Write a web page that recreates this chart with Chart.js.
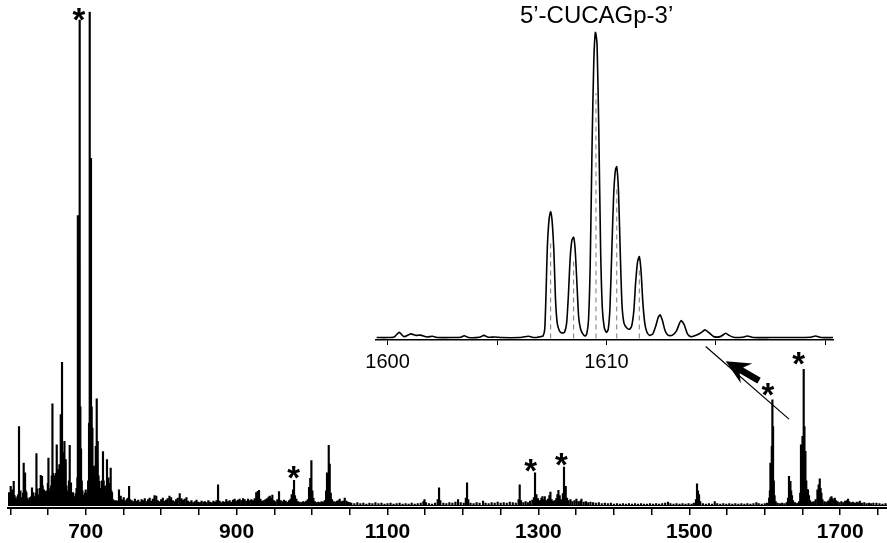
<!DOCTYPE html>
<html><head><meta charset="utf-8">
<script src="https://cdn.jsdelivr.net/npm/chart.js@4.4.0/dist/chart.umd.min.js"></script>
<style>
html,body{margin:0;padding:0;background:#fff;}
#wrap{position:relative;width:887px;height:543px;overflow:hidden;background:#fff;}
#main{position:absolute;left:0;top:0;}
#inset{position:absolute;left:360px;top:0;}
</style></head><body>
<div id="wrap"><canvas id="main" width="887" height="543"></canvas><canvas id="inset" width="480" height="380"></canvas></div>
<script>
// ---- main spectrum: [m/z, relative intensity %] ----
const peaks600to760 = [[598.3,2.6],[599.5,2.0],[600.6,3.9],[601.7,2.4],[602.8,3.2],[603.7,2.2],[604.6,4.9],[605.8,2.0],[607.0,1.5],[608.3,1.2],[609.5,1.8],[610.5,2.2],[611.6,16.0],[612.5,2.8],[613.5,3.0],[614.8,1.6],[616.0,1.2],[617.0,2.5],[617.8,8.6],[618.7,4.0],[619.6,6.6],[620.5,3.0],[621.4,2.6],[622.6,1.5],[623.8,1.0],[624.8,1.2],[625.8,1.6],[626.8,1.1],[627.8,1.8],[628.8,3.6],[630.1,2.6],[631.3,1.5],[632.5,1.8],[633.6,2.5],[634.7,10.5],[635.4,3.0],[636.0,3.4],[637.2,2.0],[638.3,2.2],[639.4,3.5],[640.4,6.1],[641.2,5.0],[642.1,5.9],[643.0,4.0],[643.9,2.8],[644.8,3.2],[645.9,2.0],[647.0,2.9],[648.0,2.2],[649.0,3.0],[649.8,4.5],[650.6,9.6],[651.5,3.0],[652.3,2.6],[653.2,3.5],[654.2,4.0],[655.0,6.0],[655.9,20.6],[656.8,6.5],[657.6,5.3],[658.5,6.0],[659.3,5.6],[660.4,6.5],[661.6,12.3],[662.4,5.5],[663.3,7.3],[664.2,6.0],[665.1,8.3],[666.0,7.0],[666.9,18.4],[667.7,10.0],[668.6,29.0],[669.3,9.0],[669.9,10.7],[670.8,8.5],[671.8,13.0],[672.6,7.0],[673.5,9.3],[674.5,4.0],[675.7,2.6],[676.8,3.0],[677.8,5.0],[678.8,12.2],[679.6,4.0],[680.5,4.6],[681.5,2.2],[682.4,1.8],[683.2,2.6],[684.2,1.6],[685.4,1.8],[686.7,2.4],[687.8,3.5],[689.0,5.6],[689.6,58.7],[690.4,30.0],[691.1,49.0],[692.0,98.3],[692.9,20.0],[693.8,11.5],[694.8,5.0],[695.7,3.0],[696.8,2.0],[697.8,1.6],[698.8,2.5],[700.0,3.2],[701.0,2.5],[702.0,1.8],[703.2,5.0],[704.4,16.7],[705.3,100],[706.1,25.0],[707.0,70.3],[707.9,20.0],[708.9,15.7],[709.8,8.0],[710.6,5.9],[711.6,6.0],[712.5,8.0],[713.3,12.0],[714.6,21.6],[715.2,9.0],[715.9,13.0],[717.0,6.0],[718.2,4.9],[719.3,3.0],[720.4,3.5],[721.6,5.0],[722.9,10.9],[723.8,5.0],[724.8,3.9],[726.0,2.5],[727.1,4.0],[728.2,9.3],[729.1,4.0],[730.1,5.6],[731.1,3.0],[732.1,4.5],[733.1,7.6],[734.0,3.0],[734.9,2.6],[736.2,1.2],[737.5,1.0],[738.9,0.8],[740.2,1.0],[741.5,0.7],[742.8,0.9],[744.1,3.2],[745.2,1.0],[746.4,1.9],[747.6,1.2],[749.0,1.0],[750.4,1.6],[751.8,0.8],[753.3,1.0],[754.7,1.3],[756.2,1.5],[757.5,3.9],[758.8,1.2]];
const peaks760to1050 = [[761.0,1.0],[763.0,0.8],[765.2,1.3],[767.5,0.9],[769.6,1.1],[771.8,0.7],[774.0,1.2],[776.0,1.0],[778.3,1.4],[780.5,0.8],[782.6,1.2],[784.8,1.5],[787.0,0.9],[789.0,1.3],[791.2,2.0],[793.5,1.9],[795.5,1.0],[797.8,0.8],[800.0,1.2],[802.2,1.5],[804.3,0.9],[806.5,1.1],[808.7,1.4],[811.0,1.9],[813.2,1.6],[815.4,1.0],[817.6,0.8],[819.8,1.2],[822.0,1.5],[824.6,2.4],[826.8,1.4],[829.0,1.1],[831.2,1.3],[833.5,1.6],[835.7,0.9],[838.0,0.7],[840.2,1.0],[842.5,0.6],[844.6,0.8],[846.8,1.1],[849.0,0.7],[851.3,0.6],[853.5,0.9],[855.8,0.7],[858.0,0.8],[860.2,0.6],[862.5,1.0],[864.7,0.7],[867.0,0.6],[869.2,0.9],[871.4,0.7],[873.4,1.0],[875.4,4.2],[877.4,0.9],[879.6,0.6],[881.8,0.8],[884.0,0.7],[886.3,1.2],[888.5,0.8],[890.7,1.0],[893.0,0.7],[895.2,1.1],[897.4,1.3],[899.6,0.9],[901.8,1.1],[904.0,1.3],[906.2,1.0],[908.5,1.4],[910.7,1.2],[913.0,0.9],[915.2,1.3],[917.4,1.0],[919.6,1.2],[921.8,1.0],[924.0,1.4],[926.0,2.6],[928.0,2.9],[929.7,3.1],[931.5,1.3],[933.7,0.9],[936.0,1.0],[938.2,1.2],[940.4,1.4],[942.5,1.7],[944.0,1.9],[945.8,1.5],[947.4,2.1],[949.5,1.0],[951.7,0.8],[954.0,1.2],[956.2,2.8],[958.4,1.0],[960.6,0.8],[962.8,1.1],[965.0,0.9],[967.3,0.7],[969.5,1.0],[971.5,1.3],[973.0,2.2],[974.8,3.2],[976.1,5.1],[977.4,2.0],[979.2,1.3],[981.3,0.8],[983.5,0.7],[985.7,0.6],[987.9,0.8],[990.0,0.7],[992.2,0.9],[994.3,1.2],[996.0,3.7],[997.6,5.5],[999.1,9.1],[1000.4,3.0],[1001.8,1.5],[1003.8,0.8],[1006.0,0.6],[1008.2,0.7],[1010.4,0.6],[1012.6,0.8],[1014.7,0.7],[1016.8,1.0],[1018.6,3.0],[1019.8,6.6],[1021.0,5.6],[1022.1,12.2],[1023.4,8.4],[1024.8,2.5],[1026.5,1.2],[1028.6,0.8],[1030.8,0.7],[1032.9,0.9],[1035.0,1.0],[1036.6,1.3],[1038.7,0.8],[1040.8,0.9],[1043.3,1.5],[1045.5,0.9],[1047.7,0.7],[1050.0,0.6]];
const peaks1050to1600 = [[1052,0.5],[1056,0.4],[1060,0.6],[1064,0.4],[1068,0.5],[1072,0.3],[1076,0.5],[1080,0.4],[1084,0.6],[1088,0.4],[1092,0.5],[1096,0.3],[1100,0.4],[1104,0.5],[1108,0.3],[1112,0.4],[1116,0.5],[1120,0.3],[1124,0.4],[1128,0.3],[1132,0.5],[1136,0.3],[1140,0.4],[1144,0.5],[1147.5,0.8],[1149,1.2],[1151,0.6],[1155,0.4],[1159,0.3],[1163,0.5],[1166.5,1.2],[1168.3,3.6],[1170,1.0],[1174,0.5],[1178,0.4],[1182,0.6],[1186,0.5],[1190,0.7],[1193.5,1.2],[1197,0.6],[1201,0.5],[1203.8,1.5],[1205.4,4.6],[1207,1.2],[1210,0.5],[1214,0.4],[1218,0.6],[1222,0.5],[1226.6,0.9],[1230,0.5],[1234,0.4],[1238,0.6],[1242,0.5],[1246,0.7],[1250,0.5],[1254,0.6],[1258,0.5],[1262,0.7],[1266,0.6],[1270,0.5],[1273.7,1.2],[1275.2,4.2],[1277,1.0],[1280,0.6],[1283,0.8],[1286,0.6],[1289,0.9],[1292,1.1],[1294,1.6],[1295.5,6.6],[1297.4,2.2],[1299.5,1.4],[1302,1.0],[1304,1.5],[1305.3,1.8],[1306.8,1.2],[1308.4,1.8],[1310.5,1.0],[1312.6,1.3],[1314.5,2.0],[1315.9,2.7],[1317.5,1.2],[1319.5,0.9],[1321.6,1.0],[1323.7,1.4],[1325.2,2.2],[1326.5,3.1],[1328.2,2.0],[1330,1.2],[1332.4,2.4],[1333.9,7.8],[1335,3.0],[1336.2,3.9],[1338,1.5],[1340,1.0],[1342.5,1.2],[1345,0.8],[1347.8,1.0],[1350.4,1.3],[1353,0.8],[1355.5,0.9],[1357,1.3],[1360,0.7],[1363,0.8],[1366,0.6],[1369,0.7],[1372.4,0.6],[1376,0.5],[1380,0.6],[1384,0.4],[1388,0.5],[1392,0.4],[1396,0.5],[1400,0.3],[1404,0.4],[1408,0.3],[1412,0.4],[1416,0.3],[1420,0.4],[1424,0.3],[1428,0.4],[1432,0.3],[1436,0.4],[1440,0.3],[1444,0.3],[1448,0.4],[1452,0.3],[1456,0.4],[1460,0.3],[1464,0.4],[1468,0.5],[1471.8,0.7],[1475,0.4],[1479,0.3],[1483,0.4],[1487,0.3],[1491,0.4],[1495,0.3],[1499,0.4],[1503,0.3],[1506,0.5],[1508.8,1.2],[1510.2,4.4],[1511.5,3.0],[1512.9,2.2],[1514.5,0.8],[1518,0.4],[1522,0.3],[1526,0.4],[1530,0.3],[1533.7,0.8],[1537,0.4],[1541,0.3],[1545,0.4],[1549,0.3],[1553,0.4],[1557,0.3],[1561,0.4],[1565,0.3],[1569,0.4],[1573,0.3],[1577,0.4],[1581,0.3],[1585,0.4],[1588.9,0.6],[1592,0.4],[1596,0.3]];
const peaks1600to1762 = [[1600,0.4],[1603,0.5],[1605.8,1.5],[1606.8,3.0],[1607.5,8.6],[1608.5,6.0],[1609.3,12.0],[1610.1,21.4],[1611.0,16.0],[1612.0,5.0],[1613.0,2.0],[1614.5,0.8],[1617,0.5],[1620,0.4],[1623,0.5],[1626,0.4],[1629,0.6],[1630.8,1.5],[1632.1,5.9],[1633,4.5],[1634,4.9],[1635,3.0],[1636.1,2.0],[1637.5,1.0],[1640,0.6],[1643,0.5],[1645.5,0.8],[1647,2.5],[1648,12.3],[1649,9.0],[1650,14.0],[1651.6,27.6],[1652.6,16.0],[1653.9,11.0],[1655,5.0],[1656,3.3],[1657.3,3.2],[1658.6,2.0],[1660,1.0],[1662.5,0.7],[1665,0.8],[1667.5,1.2],[1669.8,3.2],[1671.4,4.2],[1672.9,5.4],[1674,3.5],[1675.1,2.5],[1676.5,1.2],[1679,0.8],[1681.5,0.7],[1684,0.9],[1686,1.2],[1687.2,1.6],[1688.4,1.8],[1689.6,1.4],[1691,1.2],[1692.8,1.5],[1694.5,1.0],[1696.5,0.8],[1699,0.6],[1701.5,0.8],[1704,0.6],[1706.5,0.9],[1709,1.0],[1710.4,1.3],[1712,0.8],[1714.5,0.6],[1717,0.7],[1719.5,0.5],[1722,0.7],[1724.5,0.6],[1726,0.9],[1729,0.5],[1732,0.6],[1735,0.4],[1738,0.5],[1741,0.4],[1744,0.5],[1748,0.5],[1752,0.4],[1756,0.3],[1760,0.4]];
const mainTicks = [600,650,700,750,800,850,900,950,1000,1050,1100,1150,1200,1250,1300,1350,1400,1450,1500,1550,1600,1650,1700,1750];
const mainTickLabels = [700,900,1100,1300,1500,1700];
// asterisk annotations [m/z, intensity of asterisk centre]
const asterisks = [[691.1,99.5],[975.7,6.6],[1289.8,8.2],[1330.5,9.4],[1604.3,23.5],[1645.0,29.7]];
// arrow & pointer line (data coordinates of main spectrum)
const pointerLine = [[1521.7,32.2],[1632.1,17.5]];
const arrowFromTo = [[1592.4,25.3],[1548.3,29.2]];

// ---- inset (zoom on 5'-CUCAGp-3') ----
const insetTitle = '5\u2019-CUCAGp-3\u2019';
const insetProfile = [[1599.5,0.3],[1600.0,0.3],[1600.3,0.5],[1600.53,2.0],[1600.75,0.6],[1601.06,1.5],[1601.3,1.0],[1601.5,1.1],[1601.8,0.5],[1602.05,0.7],[1602.3,0.3],[1603.0,0.3],[1603.35,0.4],[1603.5,0.9],[1603.7,0.3],[1604.2,0.4],[1604.4,1.0],[1604.6,0.4],[1604.9,0.5],[1605.2,0.3],[1606.0,0.3],[1606.44,0.7],[1606.7,0.3],[1607.0,0.6],
 [1607.1,0.8],[1607.18,3],[1607.24,15],[1607.3,30],[1607.38,39],[1607.45,41.3],[1607.52,38],[1607.6,28],[1607.67,13],[1607.75,5],[1607.85,2.5],[1607.95,1.8],
 [1608.08,2.0],[1608.18,5],[1608.26,14],[1608.34,26],[1608.42,32],[1608.5,33],[1608.57,29],[1608.65,18],[1608.73,7],[1608.82,3],[1608.92,1.5],[1609.02,0.8],
 [1609.1,1.5],[1609.18,6],[1609.26,25],[1609.34,62],[1609.42,90],[1609.5,100],[1609.57,96],[1609.65,68],[1609.73,30],[1609.81,10],[1609.9,3.5],[1610.0,2.0],
 [1610.08,3],[1610.16,10],[1610.25,30],[1610.33,47],[1610.41,55],[1610.47,56],[1610.55,48],[1610.63,28],[1610.71,11],[1610.8,5],[1610.92,3.5],[1611.05,3],
 [1611.15,4],[1611.25,9],[1611.33,18],[1611.42,25],[1611.5,26.7],[1611.58,22],[1611.66,12],[1611.75,5],[1611.85,2],[1611.97,1],
 [1612.12,1.5],[1612.25,4],[1612.37,7],[1612.45,7.7],[1612.55,6],[1612.68,2.5],[1612.82,1.0],
 [1613.0,1.0],[1613.2,2.5],[1613.35,5.2],[1613.42,5.8],[1613.55,4.5],[1613.7,1.5],[1613.85,0.6],[1614.0,0.8],[1614.3,1.8],[1614.5,2.8],[1614.7,1.8],[1614.9,0.6],[1615.2,0.6],[1615.45,1.7],[1615.6,1.0],[1615.8,0.4],[1616.2,0.4],[1616.44,0.8],[1616.7,0.3],[1617.5,0.3],[1618.0,0.3],[1618.6,0.3],[1619.3,0.4],[1619.55,0.8],[1619.8,0.3],[1620.35,0.3]];
const isotopeSticks = [[1607.45,31],[1608.5,26],[1609.52,80],[1610.47,50],[1611.5,23]];
const insetTicks = [1600,1605,1610,1615,1620];
const insetTickLabels = [1600,1610];

const mainPeaks = [].concat(peaks600to760, peaks760to1050, peaks1050to1600, peaks1600to1762);

function drawCenteredGlyph(ctx, text, cx, cy, targetH){
  ctx.font = 'bold 100px "Liberation Sans"';
  let m = ctx.measureText(text);
  const h100 = m.actualBoundingBoxAscent + m.actualBoundingBoxDescent;
  const size = 100 * targetH / h100;
  ctx.font = 'bold ' + size + 'px "Liberation Sans"';
  m = ctx.measureText(text);
  ctx.textAlign = 'left'; ctx.textBaseline = 'alphabetic';
  const w = m.actualBoundingBoxLeft + m.actualBoundingBoxRight;
  const bx = cx - w/2 + m.actualBoundingBoxLeft;
  const by = cy + (m.actualBoundingBoxAscent - m.actualBoundingBoxDescent)/2;
  ctx.fillText(text, bx, by);
}

const annotPlugin = {
  id: 'annot',
  afterDatasetsDraw(chart){
    const {ctx, scales:{x, y}} = chart;
    ctx.save();
    ctx.fillStyle = '#000'; ctx.strokeStyle = '#000';
    ctx.lineWidth = 1;
    const by0 = Math.round(y.getPixelForValue(0)) - 0.5;
    ctx.beginPath(); ctx.moveTo(chart.chartArea.left, by0); ctx.lineTo(chart.chartArea.right, by0); ctx.stroke();
    asterisks.forEach(a => drawCenteredGlyph(ctx, '*', x.getPixelForValue(a[0]), y.getPixelForValue(a[1]), 12.5));
    ctx.lineWidth = 1.2;
    ctx.beginPath();
    ctx.moveTo(x.getPixelForValue(pointerLine[0][0]), y.getPixelForValue(pointerLine[0][1]));
    ctx.lineTo(x.getPixelForValue(pointerLine[1][0]), y.getPixelForValue(pointerLine[1][1]));
    ctx.stroke();
    const tx = x.getPixelForValue(arrowFromTo[0][0]), ty = y.getPixelForValue(arrowFromTo[0][1]);
    const hx = x.getPixelForValue(arrowFromTo[1][0]), hy = y.getPixelForValue(arrowFromTo[1][1]);
    const dx = hx - tx, dy = hy - ty, L = Math.hypot(dx, dy), ux = dx/L, uy = dy/L, nx = -uy, ny = ux;
    const headL = 24, headW = 11.5, shaftW = 3.4, notch = 6;
    const bxp = hx - ux*headL, byp = hy - uy*headL;
    ctx.beginPath();
    ctx.moveTo(tx + nx*shaftW, ty + ny*shaftW);
    ctx.lineTo(bxp + ux*notch + nx*shaftW, byp + uy*notch + ny*shaftW);
    ctx.lineTo(bxp + nx*headW, byp + ny*headW);
    ctx.lineTo(hx, hy);
    ctx.lineTo(bxp - nx*headW, byp - ny*headW);
    ctx.lineTo(bxp + ux*notch - nx*shaftW, byp + uy*notch - ny*shaftW);
    ctx.lineTo(tx - nx*shaftW, ty - ny*shaftW);
    ctx.closePath(); ctx.fill();
    ctx.restore();
  }
};

new Chart(document.getElementById('main'), {
  type: 'bar',
  data: { datasets: [{
    data: mainPeaks.map(p => ({x: p[0], y: p[1]})),
    backgroundColor: '#000', borderWidth: 0, barThickness: 1.5, grouped: false
  }]},
  options: {
    responsive: false, animation: false, devicePixelRatio: 1,
    layout: { padding: { left: 8, right: 0, top: 11.7, bottom: 0 } },
    plugins: { legend: { display: false }, tooltip: { enabled: false } },
    scales: {
      x: {
        type: 'linear', min: 597, max: 1762, offset: false,
        afterBuildTicks: s => { s.ticks = mainTicks.map(v => ({value: v})); },
        afterFit: s => { s.height = 35; },
        grid: { offset: false, drawOnChartArea: false, drawTicks: true, tickLength: 7, color: '#000', lineWidth: 1.5 },
        border: { display: true, color: '#000', width: 2 },
        ticks: { autoSkip: false, maxRotation: 0, padding: 5, color: '#000',
          font: { family: '"Liberation Sans"', size: 21, weight: 'bold' },
          callback: v => mainTickLabels.includes(v) ? String(v) : '' }
      },
      y: { display: false, min: -0.5, max: 100 }
    }
  },
  plugins: [annotPlugin]
});

const insetPlugin = {
  id: 'insetTitle',
  afterDatasetsDraw(chart){
    const {ctx, scales:{x}} = chart;
    ctx.save();
    ctx.fillStyle = '#000';
    ctx.font = '24px "Liberation Sans"';
    ctx.textAlign = 'center'; ctx.textBaseline = 'alphabetic';
    ctx.fillText(insetTitle, x.getPixelForValue(1609.55), 23);
    ctx.restore();
  }
};

const stickData = [];
isotopeSticks.forEach(s => { stickData.push({x: s[0], y: 0}, {x: s[0], y: s[1]}, {x: s[0], y: null}); });

new Chart(document.getElementById('inset'), {
  type: 'line',
  data: { datasets: [
    { data: insetProfile.map(p => ({x: p[0], y: p[1]})), borderColor: '#000', borderWidth: 1.6, pointRadius: 0, tension: 0.2, fill: false },
    { data: stickData, borderColor: '#777', borderWidth: 1, borderDash: [5, 4], pointRadius: 0, tension: 0, spanGaps: false, fill: false }
  ]},
  options: {
    responsive: false, animation: false, devicePixelRatio: 1,
    layout: { padding: { left: 13, right: 7, top: 31.7, bottom: 0 } },
    plugins: { legend: { display: false }, tooltip: { enabled: false } },
    scales: {
      x: {
        type: 'linear', min: 1599.45, max: 1620.35,
        afterBuildTicks: s => { s.ticks = insetTicks.map(v => ({value: v})); },
        afterFit: s => { s.height = 40; },
        grid: { drawOnChartArea: false, drawTicks: true, tickLength: 5, color: '#000', lineWidth: 1 },
        border: { display: true, color: '#000', width: 1.5 },
        ticks: { autoSkip: false, maxRotation: 0, padding: 5, color: '#000',
          font: { family: '"Liberation Sans"', size: 20 },
          callback: v => insetTickLabels.includes(v) ? String(v) : '' }
      },
      y: { display: false, min: -0.5, max: 100 }
    }
  },
  plugins: [insetPlugin]
});
</script>
</body></html>
